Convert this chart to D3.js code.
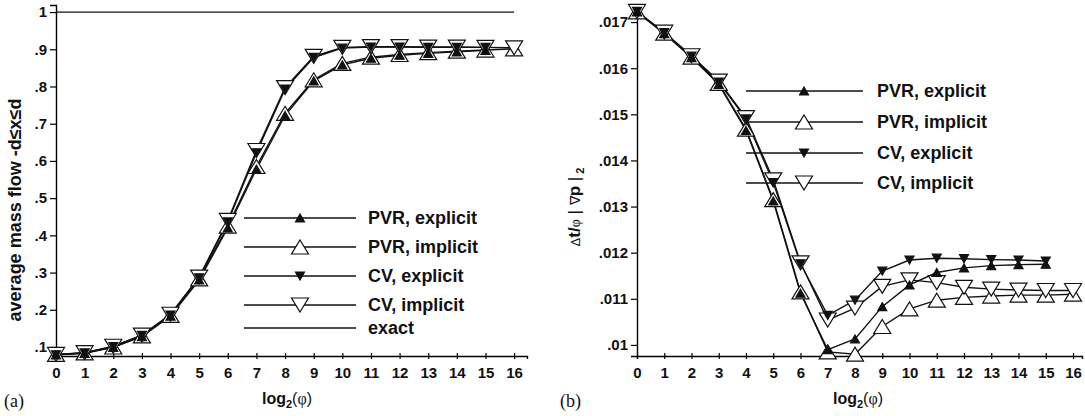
<!DOCTYPE html>
<html>
<head>
<meta charset="utf-8">
<script src="https://cdn.jsdelivr.net/npm/d3@7"></script>
<style>
  body { margin: 0; background: #fff; }
  svg { display: block; }
  text { font-family: "Liberation Sans", Arial, sans-serif; fill: #111; }
</style>
</head>
<body>
<svg id="chart" width="1085" height="416"></svg>
<script>
const steps = d3.range(0, 17);           // log2(phi) = 0..16
const xTickLabels = steps.map(String);

// panel (a): average mass flow
const yTicksA = [0.1, 0.2, 0.3, 0.4, 0.5, 0.6, 0.7, 0.8, 0.9, 1];
const yTickLabelsA = [".1", ".2", ".3", ".4", ".5", ".6", ".7", ".8", ".9", "1"];
const pvrExplicitA = [0.079, 0.083, 0.099, 0.128, 0.183, 0.280, 0.420, 0.578, 0.722, 0.815, 0.858, 0.876, 0.884, 0.889, 0.893, 0.897];
const pvrImplicitA = [0.080, 0.084, 0.100, 0.130, 0.185, 0.283, 0.425, 0.585, 0.728, 0.818, 0.862, 0.879, 0.886, 0.891, 0.895, 0.898, 0.901];
const cvExplicitA  = [0.079, 0.084, 0.101, 0.131, 0.186, 0.286, 0.436, 0.622, 0.793, 0.878, 0.903, 0.906, 0.906, 0.905, 0.905, 0.905];
const cvImplicitA  = [0.080, 0.085, 0.102, 0.132, 0.188, 0.288, 0.440, 0.628, 0.797, 0.881, 0.905, 0.907, 0.907, 0.906, 0.906, 0.905, 0.904];
const exactA       = steps.map(() => 1);

// panel (b): dt/phi |grad p|_2
const yTicksB = [0.010, 0.011, 0.012, 0.013, 0.014, 0.015, 0.016, 0.017];
const yTickLabelsB = [".01", ".011", ".012", ".013", ".014", ".015", ".016", ".017"];
const pvrExplicitB = [0.01722, 0.01675, 0.01623, 0.01565, 0.01465, 0.01312, 0.01112, 0.00990, 0.01013, 0.01083, 0.01130, 0.01157, 0.01167, 0.01172, 0.01174, 0.01175];
const pvrImplicitB = [0.01722, 0.01676, 0.01624, 0.01567, 0.01468, 0.01315, 0.01115, 0.00985, 0.00980, 0.01040, 0.01078, 0.01097, 0.01103, 0.01106, 0.01108, 0.01108, 0.01110];
const cvExplicitB  = [0.01723, 0.01677, 0.01626, 0.01570, 0.01490, 0.01352, 0.01176, 0.01064, 0.01097, 0.01160, 0.01184, 0.01188, 0.01187, 0.01185, 0.01184, 0.01182];
const cvImplicitB  = [0.01723, 0.01678, 0.01627, 0.01572, 0.01493, 0.01358, 0.01178, 0.01054, 0.01080, 0.01127, 0.01141, 0.01135, 0.01125, 0.01121, 0.01119, 0.01118, 0.01118];

const legendNames = ["PVR, explicit", "PVR, implicit", "CV, explicit", "CV, implicit", "exact"];
// marker: [direction, filled]
const markerKinds = [["up", true], ["up", false], ["down", true], ["down", false], [null, false]];

const svg = d3.select("#chart");

function tri(dir, w, h) {
  if (dir === "up") return `M0,${-h / 2}L${w / 2},${h / 2}L${-w / 2},${h / 2}Z`;
  return `M0,${h / 2}L${w / 2},${-h / 2}L${-w / 2},${-h / 2}Z`;
}
function drawMarker(g, dir, filled, x, y) {
  g.append("path")
    .attr("transform", `translate(${x},${y})`)
    .attr("d", filled ? tri(dir, 9, 8) : tri(dir, 17, 14))
    .attr("fill", filled ? "#111" : "#fff")
    .attr("stroke", "#111")
    .attr("stroke-width", 1.2);
}

function panel(cfg) {
  const g = svg.append("g");
  const x = d3.scaleLinear().domain([0, cfg.xMax]).range([cfg.left, cfg.right]);
  const y = d3.scaleLinear().domain(cfg.yDomain).range([356, 5]);

  // x axis
  const xa = g.append("g").attr("transform", "translate(0,356)")
    .call(d3.axisBottom(x).tickValues(steps).tickFormat((d, i) => xTickLabels[i]).tickSizeOuter(0).tickSize(3).tickPadding(8));
  xa.select(".domain").attr("stroke-width", 1.4);
  xa.selectAll(".tick line").attr("y1", -3).attr("y2", 3).attr("stroke-width", 1.2);
  xa.selectAll("text").style("font-size", "15px").style("font-weight", "bold").attr("fill", "#111");

  // y axis
  const ya = g.append("g").attr("transform", `translate(${cfg.left},0)`)
    .call(d3.axisLeft(y).tickValues(cfg.yTicks).tickFormat((d, i) => cfg.yTickLabels[i]).tickSizeOuter(0).tickSize(6).tickPadding(3));
  ya.select(".domain").attr("stroke-width", 1.4);
  ya.selectAll(".tick line").attr("stroke-width", 1.2);
  ya.selectAll("text").style("font-size", "15px").style("font-weight", "bold").attr("fill", "#111");

  const line = d3.line().x((d, i) => x(steps[i])).y(d => y(d));
  cfg.series.forEach(s => {
    g.append("path").datum(s).attr("d", line)
      .attr("fill", "none").attr("stroke", "#111").attr("stroke-width", 1.4);
  });
  // open markers below filled ones
  [1, 3, 0, 2].forEach(k => {
    const s = cfg.series[k];
    const [dir, filled] = markerKinds[k];
    s.forEach((v, i) => drawMarker(g, dir, filled, x(steps[i]), y(v)));
  });

  // legend
  cfg.legendRows.forEach((ry, k) => {
    g.append("line").attr("x1", cfg.legX1).attr("x2", cfg.legX2).attr("y1", ry).attr("y2", ry)
      .attr("stroke", "#111").attr("stroke-width", 1.3);
    const [dir, filled] = markerKinds[k];
    if (dir) drawMarker(g, dir, filled, cfg.legMarkX, ry);
    g.append("text").attr("x", cfg.legTextX).attr("y", ry).attr("dy", "0.36em")
      .style("font-size", "18px").style("font-weight", "bold").text(legendNames[k]);
  });

  // x label
  const xl = g.append("text").attr("x", cfg.xLabelX).attr("y", 404).attr("text-anchor", "middle")
    .style("font-size", "16px").style("font-weight", "bold");
  xl.append("tspan").text("log");
  xl.append("tspan").attr("dy", 4).style("font-size", "11px").text("2");
  xl.append("tspan").attr("dy", -4).style("font-weight", "normal").text("(");
  xl.append("tspan").style("font-family", "'Liberation Serif', serif").style("font-weight", "normal").text("φ");
  xl.append("tspan").style("font-weight", "normal").text(")");

  // panel letter
  g.append("text").attr("x", cfg.letterX).attr("y", 407)
    .style("font-family", "'Liberation Serif', serif").style("font-size", "18px").text(cfg.letter);
  return { g, x, y };
}

const a = panel({
  left: 56, right: 527, xMax: 16.45, yDomain: [0.0758, 1.019],
  yTicks: yTicksA, yTickLabels: yTickLabelsA,
  series: [pvrExplicitA, pvrImplicitA, cvExplicitA, cvImplicitA],
  legendRows: [218, 247, 276, 305, 328],
  legX1: 244, legX2: 356, legMarkX: 300, legTextX: 368,
  xLabelX: 287, letter: "(a)", letterX: 4
});
// exact line at 1
a.g.append("path").datum(exactA)
  .attr("d", d3.line().x((d, i) => a.x(steps[i])).y(d => a.y(d)))
  .attr("fill", "none").attr("stroke", "#111").attr("stroke-width", 1.3);

a.g.append("text").attr("transform", "translate(21,210) rotate(-90)").attr("text-anchor", "middle")
  .style("font-size", "18px").style("font-weight", "bold").text("average mass flow -d≤x≤d");

const b = panel({
  left: 637, right: 1082, xMax: 16.33, yDomain: [0.00976, 0.01737],
  yTicks: yTicksB, yTickLabels: yTickLabelsB,
  series: [pvrExplicitB, pvrImplicitB, cvExplicitB, cvImplicitB],
  legendRows: [91, 122, 153, 183],
  legX1: 746, legX2: 863, legMarkX: 804, legTextX: 877,
  xLabelX: 858, letter: "(b)", letterX: 560
});

const yl = b.g.append("text").attr("transform", "translate(580,207) rotate(-90)").attr("text-anchor", "middle")
  .style("font-size", "17px").style("font-weight", "bold");
yl.append("tspan").style("font-weight", "normal").style("font-size", "13px").text("Δ");
yl.append("tspan").text("t/");
yl.append("tspan").style("font-family", "'Liberation Serif', serif").style("font-weight", "normal").style("font-size", "14px").text("φ");
yl.append("tspan").style("font-weight", "normal").text(" | ");
yl.append("tspan").style("font-weight", "normal").style("font-size", "14px").text("∇");
yl.append("tspan").text("p");
yl.append("tspan").style("font-weight", "normal").text(" |");
yl.append("tspan").attr("dy", 4).style("font-size", "11px").text(" 2");
</script>
</body>
</html>
